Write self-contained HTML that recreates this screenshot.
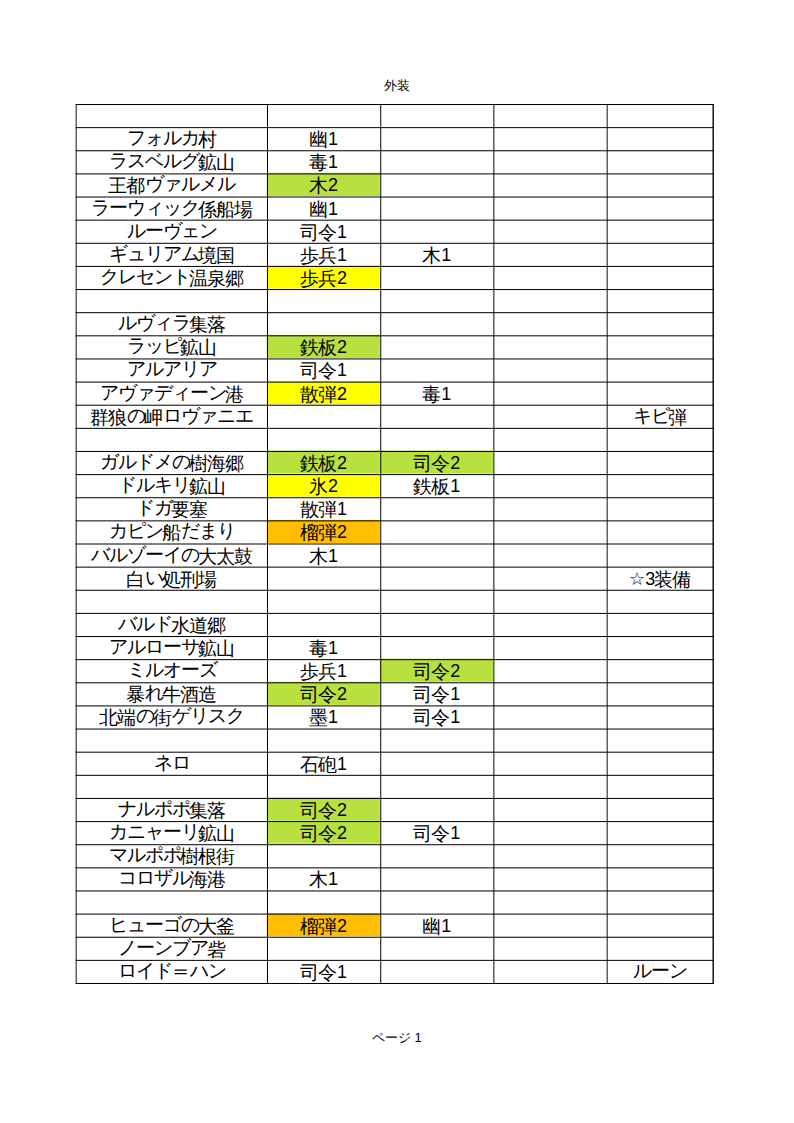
<!DOCTYPE html><html><head><meta charset="utf-8"><style>
html,body{margin:0;padding:0;background:#fff;}
body{width:794px;height:1123px;position:relative;overflow:hidden;font-family:"Liberation Sans",sans-serif;color:#000;}
.t{position:absolute;text-align:center;white-space:nowrap;font-size:18px;}
.k{display:inline-block;transform:translateY(0.6px) scale(1.070);}
.h{display:inline-block;transform:translateY(-0.8px) scale(1.040);}
.eq{display:inline-block;transform:translateY(-0.8px) scaleX(1.3);}
.hd{position:absolute;font-size:13px;line-height:16px;white-space:nowrap;}
svg{position:absolute;left:0;top:0;}
</style></head><body>
<svg width="794" height="1123" viewBox="0 0 794 1123">
<rect x="266.70" y="172.89" width="113.10" height="23.13" fill="#b8e13f"/>
<rect x="266.70" y="265.42" width="113.10" height="23.13" fill="#ffff00"/>
<rect x="266.70" y="334.82" width="113.10" height="23.13" fill="#b8e13f"/>
<rect x="266.70" y="381.08" width="113.10" height="23.13" fill="#ffff00"/>
<rect x="266.70" y="450.47" width="113.10" height="23.13" fill="#b8e13f"/>
<rect x="379.95" y="450.47" width="112.98" height="23.13" fill="#b8e13f"/>
<rect x="266.70" y="473.61" width="113.10" height="23.13" fill="#ffff00"/>
<rect x="266.70" y="519.87" width="113.10" height="23.13" fill="#ffbf00"/>
<rect x="379.95" y="658.66" width="112.98" height="23.13" fill="#b8e13f"/>
<rect x="266.70" y="681.79" width="113.10" height="23.13" fill="#b8e13f"/>
<rect x="266.70" y="797.45" width="113.10" height="23.13" fill="#b8e13f"/>
<rect x="266.70" y="820.58" width="113.10" height="23.13" fill="#b8e13f"/>
<rect x="266.70" y="913.11" width="113.10" height="23.13" fill="#ffbf00"/>
<rect x="75.69" y="104.000" width="638.18" height="1" fill="#000"/>
<rect x="75.69" y="127.132" width="638.18" height="1" fill="#000"/>
<rect x="75.69" y="150.263" width="638.18" height="1" fill="#000"/>
<rect x="75.69" y="173.395" width="638.18" height="1" fill="#000"/>
<rect x="75.69" y="196.526" width="638.18" height="1" fill="#000"/>
<rect x="75.69" y="219.658" width="638.18" height="1" fill="#000"/>
<rect x="75.69" y="242.789" width="638.18" height="1" fill="#000"/>
<rect x="75.69" y="265.921" width="638.18" height="1" fill="#000"/>
<rect x="75.69" y="289.053" width="638.18" height="1" fill="#000"/>
<rect x="75.69" y="312.184" width="638.18" height="1" fill="#000"/>
<rect x="75.69" y="335.316" width="638.18" height="1" fill="#000"/>
<rect x="75.69" y="358.447" width="638.18" height="1" fill="#000"/>
<rect x="75.69" y="381.579" width="638.18" height="1" fill="#000"/>
<rect x="75.69" y="404.711" width="638.18" height="1" fill="#000"/>
<rect x="75.69" y="427.842" width="638.18" height="1" fill="#000"/>
<rect x="75.69" y="450.974" width="638.18" height="1" fill="#000"/>
<rect x="75.69" y="474.105" width="638.18" height="1" fill="#000"/>
<rect x="75.69" y="497.237" width="638.18" height="1" fill="#000"/>
<rect x="75.69" y="520.368" width="638.18" height="1" fill="#000"/>
<rect x="75.69" y="543.500" width="638.18" height="1" fill="#000"/>
<rect x="75.69" y="566.632" width="638.18" height="1" fill="#000"/>
<rect x="75.69" y="589.763" width="638.18" height="1" fill="#000"/>
<rect x="75.69" y="612.895" width="638.18" height="1" fill="#000"/>
<rect x="75.69" y="636.026" width="638.18" height="1" fill="#000"/>
<rect x="75.69" y="659.158" width="638.18" height="1" fill="#000"/>
<rect x="75.69" y="682.289" width="638.18" height="1" fill="#000"/>
<rect x="75.69" y="705.421" width="638.18" height="1" fill="#000"/>
<rect x="75.69" y="728.553" width="638.18" height="1" fill="#000"/>
<rect x="75.69" y="751.684" width="638.18" height="1" fill="#000"/>
<rect x="75.69" y="774.816" width="638.18" height="1" fill="#000"/>
<rect x="75.69" y="797.947" width="638.18" height="1" fill="#000"/>
<rect x="75.69" y="821.079" width="638.18" height="1" fill="#000"/>
<rect x="75.69" y="844.211" width="638.18" height="1" fill="#000"/>
<rect x="75.69" y="867.342" width="638.18" height="1" fill="#000"/>
<rect x="75.69" y="890.474" width="638.18" height="1" fill="#000"/>
<rect x="75.69" y="913.605" width="638.18" height="1" fill="#000"/>
<rect x="75.69" y="936.737" width="638.18" height="1" fill="#000"/>
<rect x="75.69" y="959.868" width="638.18" height="1" fill="#000"/>
<rect x="75.69" y="983.000" width="638.18" height="1" fill="#000"/>
<rect x="75.69" y="104" width="0.93" height="880" fill="#000"/>
<rect x="267.00" y="104" width="1.00" height="880" fill="#000"/>
<rect x="380.25" y="104" width="0.97" height="880" fill="#000"/>
<rect x="493.38" y="104" width="0.96" height="880" fill="#000"/>
<rect x="606.69" y="104" width="0.93" height="880" fill="#000"/>
<rect x="712.50" y="104" width="1.37" height="880" fill="#000"/>
</svg>
<div class="t" style="left:76.15px;width:191.35px;top:128.13px;height:23.13px;line-height:23.13px"><span class="h">フ</span><span class="h">ォ</span><span class="h">ル</span><span class="h">カ</span><span class="k">村</span></div>
<div class="t" style="left:267.50px;width:113.20px;top:128.13px;height:23.13px;line-height:23.13px"><span class="k">幽</span>1</div>
<div class="t" style="left:76.15px;width:191.35px;top:151.26px;height:23.13px;line-height:23.13px"><span class="h">ラ</span><span class="h">ス</span><span class="h">ベ</span><span class="h">ル</span><span class="h">グ</span><span class="k">鉱</span><span class="k">山</span></div>
<div class="t" style="left:267.50px;width:113.20px;top:151.26px;height:23.13px;line-height:23.13px"><span class="k">毒</span>1</div>
<div class="t" style="left:76.15px;width:191.35px;top:174.39px;height:23.13px;line-height:23.13px"><span class="k">王</span><span class="k">都</span><span class="h">ヴ</span><span class="h">ァ</span><span class="h">ル</span><span class="h">メ</span><span class="h">ル</span></div>
<div class="t" style="left:267.50px;width:113.20px;top:174.39px;height:23.13px;line-height:23.13px"><span class="k">木</span>2</div>
<div class="t" style="left:76.15px;width:191.35px;top:197.53px;height:23.13px;line-height:23.13px"><span class="h">ラ</span><span class="h">ー</span><span class="h">ウ</span><span class="h">ィ</span><span class="h">ッ</span><span class="h">ク</span><span class="k">係</span><span class="k">船</span><span class="k">場</span></div>
<div class="t" style="left:267.50px;width:113.20px;top:197.53px;height:23.13px;line-height:23.13px"><span class="k">幽</span>1</div>
<div class="t" style="left:76.15px;width:191.35px;top:220.66px;height:23.13px;line-height:23.13px"><span class="h">ル</span><span class="h">ー</span><span class="h">ヴ</span><span class="h">ェ</span><span class="h">ン</span></div>
<div class="t" style="left:267.50px;width:113.20px;top:220.66px;height:23.13px;line-height:23.13px"><span class="k">司</span><span class="k">令</span>1</div>
<div class="t" style="left:76.15px;width:191.35px;top:243.79px;height:23.13px;line-height:23.13px"><span class="h">ギ</span><span class="h">ュ</span><span class="h">リ</span><span class="h">ア</span><span class="h">ム</span><span class="k">境</span><span class="k">国</span></div>
<div class="t" style="left:267.50px;width:113.20px;top:243.79px;height:23.13px;line-height:23.13px"><span class="k">歩</span><span class="k">兵</span>1</div>
<div class="t" style="left:380.70px;width:113.15px;top:243.79px;height:23.13px;line-height:23.13px"><span class="k">木</span>1</div>
<div class="t" style="left:76.15px;width:191.35px;top:266.92px;height:23.13px;line-height:23.13px"><span class="h">ク</span><span class="h">レ</span><span class="h">セ</span><span class="h">ン</span><span class="h">ト</span><span class="k">温</span><span class="k">泉</span><span class="k">郷</span></div>
<div class="t" style="left:267.50px;width:113.20px;top:266.92px;height:23.13px;line-height:23.13px"><span class="k">歩</span><span class="k">兵</span>2</div>
<div class="t" style="left:76.15px;width:191.35px;top:313.18px;height:23.13px;line-height:23.13px"><span class="h">ル</span><span class="h">ヴ</span><span class="h">ィ</span><span class="h">ラ</span><span class="k">集</span><span class="k">落</span></div>
<div class="t" style="left:76.15px;width:191.35px;top:336.32px;height:23.13px;line-height:23.13px"><span class="h">ラ</span><span class="h">ッ</span><span class="h">ピ</span><span class="k">鉱</span><span class="k">山</span></div>
<div class="t" style="left:267.50px;width:113.20px;top:336.32px;height:23.13px;line-height:23.13px"><span class="k">鉄</span><span class="k">板</span>2</div>
<div class="t" style="left:76.15px;width:191.35px;top:359.45px;height:23.13px;line-height:23.13px"><span class="h">ア</span><span class="h">ル</span><span class="h">ア</span><span class="h">リ</span><span class="h">ア</span></div>
<div class="t" style="left:267.50px;width:113.20px;top:359.45px;height:23.13px;line-height:23.13px"><span class="k">司</span><span class="k">令</span>1</div>
<div class="t" style="left:76.15px;width:191.35px;top:382.58px;height:23.13px;line-height:23.13px"><span class="h">ア</span><span class="h">ヴ</span><span class="h">ァ</span><span class="h">デ</span><span class="h">ィ</span><span class="h">ー</span><span class="h">ン</span><span class="k">港</span></div>
<div class="t" style="left:267.50px;width:113.20px;top:382.58px;height:23.13px;line-height:23.13px"><span class="k">散</span><span class="k">弾</span>2</div>
<div class="t" style="left:380.70px;width:113.15px;top:382.58px;height:23.13px;line-height:23.13px"><span class="k">毒</span>1</div>
<div class="t" style="left:76.15px;width:191.35px;top:405.71px;height:23.13px;line-height:23.13px"><span class="k">群</span><span class="k">狼</span><span class="h">の</span><span class="k">岬</span><span class="h">ロ</span><span class="h">ヴ</span><span class="h">ァ</span><span class="h">ニ</span><span class="h">エ</span></div>
<div class="t" style="left:607.15px;width:106.05px;top:405.71px;height:23.13px;line-height:23.13px"><span class="h">キ</span><span class="h">ビ</span><span class="k">弾</span></div>
<div class="t" style="left:76.15px;width:191.35px;top:451.97px;height:23.13px;line-height:23.13px"><span class="h">ガ</span><span class="h">ル</span><span class="h">ド</span><span class="h">メ</span><span class="h">の</span><span class="k">樹</span><span class="k">海</span><span class="k">郷</span></div>
<div class="t" style="left:267.50px;width:113.20px;top:451.97px;height:23.13px;line-height:23.13px"><span class="k">鉄</span><span class="k">板</span>2</div>
<div class="t" style="left:380.70px;width:113.15px;top:451.97px;height:23.13px;line-height:23.13px"><span class="k">司</span><span class="k">令</span>2</div>
<div class="t" style="left:76.15px;width:191.35px;top:475.11px;height:23.13px;line-height:23.13px"><span class="h">ド</span><span class="h">ル</span><span class="h">キ</span><span class="h">リ</span><span class="k">鉱</span><span class="k">山</span></div>
<div class="t" style="left:267.50px;width:113.20px;top:475.11px;height:23.13px;line-height:23.13px"><span class="k">氷</span>2</div>
<div class="t" style="left:380.70px;width:113.15px;top:475.11px;height:23.13px;line-height:23.13px"><span class="k">鉄</span><span class="k">板</span>1</div>
<div class="t" style="left:76.15px;width:191.35px;top:498.24px;height:23.13px;line-height:23.13px"><span class="h">ド</span><span class="h">ガ</span><span class="k">要</span><span class="k">塞</span></div>
<div class="t" style="left:267.50px;width:113.20px;top:498.24px;height:23.13px;line-height:23.13px"><span class="k">散</span><span class="k">弾</span>1</div>
<div class="t" style="left:76.15px;width:191.35px;top:521.37px;height:23.13px;line-height:23.13px"><span class="h">カ</span><span class="h">ピ</span><span class="h">ン</span><span class="k">船</span><span class="h">だ</span><span class="h">ま</span><span class="h">り</span></div>
<div class="t" style="left:267.50px;width:113.20px;top:521.37px;height:23.13px;line-height:23.13px"><span class="k">榴</span><span class="k">弾</span>2</div>
<div class="t" style="left:76.15px;width:191.35px;top:544.50px;height:23.13px;line-height:23.13px"><span class="h">バ</span><span class="h">ル</span><span class="h">ゾ</span><span class="h">ー</span><span class="h">イ</span><span class="h">の</span><span class="k">大</span><span class="k">太</span><span class="k">鼓</span></div>
<div class="t" style="left:267.50px;width:113.20px;top:544.50px;height:23.13px;line-height:23.13px"><span class="k">木</span>1</div>
<div class="t" style="left:76.15px;width:191.35px;top:567.63px;height:23.13px;line-height:23.13px"><span class="k">白</span><span class="h">い</span><span class="k">処</span><span class="k">刑</span><span class="k">場</span></div>
<div class="t" style="left:607.15px;width:106.05px;top:567.63px;height:23.13px;line-height:23.13px">☆3<span class="k">装</span><span class="k">備</span></div>
<div class="t" style="left:76.15px;width:191.35px;top:613.89px;height:23.13px;line-height:23.13px"><span class="h">バ</span><span class="h">ル</span><span class="h">ド</span><span class="k">水</span><span class="k">道</span><span class="k">郷</span></div>
<div class="t" style="left:76.15px;width:191.35px;top:637.03px;height:23.13px;line-height:23.13px"><span class="h">ア</span><span class="h">ル</span><span class="h">ロ</span><span class="h">ー</span><span class="h">サ</span><span class="k">鉱</span><span class="k">山</span></div>
<div class="t" style="left:267.50px;width:113.20px;top:637.03px;height:23.13px;line-height:23.13px"><span class="k">毒</span>1</div>
<div class="t" style="left:76.15px;width:191.35px;top:660.16px;height:23.13px;line-height:23.13px"><span class="h">ミ</span><span class="h">ル</span><span class="h">オ</span><span class="h">ー</span><span class="h">ズ</span></div>
<div class="t" style="left:267.50px;width:113.20px;top:660.16px;height:23.13px;line-height:23.13px"><span class="k">歩</span><span class="k">兵</span>1</div>
<div class="t" style="left:380.70px;width:113.15px;top:660.16px;height:23.13px;line-height:23.13px"><span class="k">司</span><span class="k">令</span>2</div>
<div class="t" style="left:76.15px;width:191.35px;top:683.29px;height:23.13px;line-height:23.13px"><span class="k">暴</span><span class="h">れ</span><span class="k">牛</span><span class="k">酒</span><span class="k">造</span></div>
<div class="t" style="left:267.50px;width:113.20px;top:683.29px;height:23.13px;line-height:23.13px"><span class="k">司</span><span class="k">令</span>2</div>
<div class="t" style="left:380.70px;width:113.15px;top:683.29px;height:23.13px;line-height:23.13px"><span class="k">司</span><span class="k">令</span>1</div>
<div class="t" style="left:76.15px;width:191.35px;top:706.42px;height:23.13px;line-height:23.13px"><span class="k">北</span><span class="k">端</span><span class="h">の</span><span class="k">街</span><span class="h">ゲ</span><span class="h">リ</span><span class="h">ス</span><span class="h">ク</span></div>
<div class="t" style="left:267.50px;width:113.20px;top:706.42px;height:23.13px;line-height:23.13px"><span class="k">墨</span>1</div>
<div class="t" style="left:380.70px;width:113.15px;top:706.42px;height:23.13px;line-height:23.13px"><span class="k">司</span><span class="k">令</span>1</div>
<div class="t" style="left:76.15px;width:191.35px;top:752.68px;height:23.13px;line-height:23.13px"><span class="h">ネ</span><span class="h">ロ</span></div>
<div class="t" style="left:267.50px;width:113.20px;top:752.68px;height:23.13px;line-height:23.13px"><span class="k">石</span><span class="k">砲</span>1</div>
<div class="t" style="left:76.15px;width:191.35px;top:798.95px;height:23.13px;line-height:23.13px"><span class="h">ナ</span><span class="h">ル</span><span class="h">ポ</span><span class="h">ポ</span><span class="k">集</span><span class="k">落</span></div>
<div class="t" style="left:267.50px;width:113.20px;top:798.95px;height:23.13px;line-height:23.13px"><span class="k">司</span><span class="k">令</span>2</div>
<div class="t" style="left:76.15px;width:191.35px;top:822.08px;height:23.13px;line-height:23.13px"><span class="h">カ</span><span class="h">ニ</span><span class="h">ャ</span><span class="h">ー</span><span class="h">リ</span><span class="k">鉱</span><span class="k">山</span></div>
<div class="t" style="left:267.50px;width:113.20px;top:822.08px;height:23.13px;line-height:23.13px"><span class="k">司</span><span class="k">令</span>2</div>
<div class="t" style="left:380.70px;width:113.15px;top:822.08px;height:23.13px;line-height:23.13px"><span class="k">司</span><span class="k">令</span>1</div>
<div class="t" style="left:76.15px;width:191.35px;top:845.21px;height:23.13px;line-height:23.13px"><span class="h">マ</span><span class="h">ル</span><span class="h">ポ</span><span class="h">ポ</span><span class="k">樹</span><span class="k">根</span><span class="k">街</span></div>
<div class="t" style="left:76.15px;width:191.35px;top:868.34px;height:23.13px;line-height:23.13px"><span class="h">コ</span><span class="h">ロ</span><span class="h">ザ</span><span class="h">ル</span><span class="k">海</span><span class="k">港</span></div>
<div class="t" style="left:267.50px;width:113.20px;top:868.34px;height:23.13px;line-height:23.13px"><span class="k">木</span>1</div>
<div class="t" style="left:76.15px;width:191.35px;top:914.61px;height:23.13px;line-height:23.13px"><span class="h">ヒ</span><span class="h">ュ</span><span class="h">ー</span><span class="h">ゴ</span><span class="h">の</span><span class="k">大</span><span class="k">釜</span></div>
<div class="t" style="left:267.50px;width:113.20px;top:914.61px;height:23.13px;line-height:23.13px"><span class="k">榴</span><span class="k">弾</span>2</div>
<div class="t" style="left:380.70px;width:113.15px;top:914.61px;height:23.13px;line-height:23.13px"><span class="k">幽</span>1</div>
<div class="t" style="left:76.15px;width:191.35px;top:937.74px;height:23.13px;line-height:23.13px"><span class="h">ノ</span><span class="h">ー</span><span class="h">ン</span><span class="h">ブ</span><span class="h">ア</span><span class="k">砦</span></div>
<div class="t" style="left:76.15px;width:191.35px;top:960.87px;height:23.13px;line-height:23.13px"><span class="h">ロ</span><span class="h">イ</span><span class="h">ド</span><span class="eq">＝</span><span class="h">ハ</span><span class="h">ン</span></div>
<div class="t" style="left:267.50px;width:113.20px;top:960.87px;height:23.13px;line-height:23.13px"><span class="k">司</span><span class="k">令</span>1</div>
<div class="t" style="left:607.15px;width:106.05px;top:960.87px;height:23.13px;line-height:23.13px"><span class="h">ル</span><span class="h">ー</span><span class="h">ン</span></div>
<div class="hd" style="left:384px;top:78px">外装</div>
<div class="hd" style="left:372px;top:1030px">ページ 1</div>
</body></html>
